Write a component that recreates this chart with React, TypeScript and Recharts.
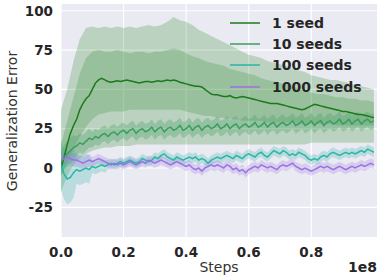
import { ComposedChart, Area, Line, XAxis, YAxis, CartesianGrid } from 'recharts';

// x positions, in units of 1e8 steps
const steps = Array.from({ length: 101 }, (_, i) => +(i * 0.01).toFixed(2));
const bandSteps = Array.from({ length: 51 }, (_, i) => +(i * 0.02).toFixed(2));

const oneSeed = [
    0, 7, 15, 22, 27, 31, 37, 41, 44, 46,
    50, 54, 56, 57, 56, 55, 54.5, 55, 55.5, 55,
    55.5, 56, 55.5, 55, 54.5, 54, 54.5, 55, 55, 54.5,
    55, 55.5, 55, 55.5, 56, 55.5, 56, 55.5, 54.5, 54,
    53.5, 53, 52.5, 52, 52, 51.5, 50, 48.5, 47, 46.5,
    46.5, 46, 45.5, 45.5, 46, 45, 44.5, 45, 45.5, 45,
    44.5, 44, 43.5, 43, 42.5, 42, 41.5, 41, 41, 41,
    40.5, 40, 39.5, 39, 38.5, 38, 37.5, 37, 37.5, 38.5,
    39.5, 40.5, 40, 39.5, 39, 38.5, 38, 37.5, 37, 36.5,
    36, 36, 35.5, 35, 34.5, 34, 34, 33.5, 33, 32.5,
    32,
];

const tenSeeds = [
    3, 7, 9, 11, 13, 14, 16, 15, 17, 19,
    18, 20, 19, 21, 22, 20, 22, 23, 21, 23,
    24, 22, 24, 25, 22, 24, 25, 23, 24, 26,
    23, 25, 26, 23, 25, 26, 24, 25, 27, 24,
    25, 27, 24, 26, 27, 24, 26, 27, 25, 26,
    28, 25, 26, 28, 25, 27, 28, 25, 27, 28,
    26, 27, 29, 26, 27, 29, 26, 28, 29, 26,
    28, 29, 27, 28, 30, 27, 28, 30, 27, 28,
    30, 27, 29, 30, 27, 29, 30, 28, 29, 31,
    28, 29, 31, 28, 30, 31, 28, 30, 31, 29,
    30,
];

const hundredSeeds = [
    2, -4, -7, -6, -3, -1, -2, -1, 0, -1,
    1, 0, 1, 2, 1, 2, 3, 2, 3, 4,
    3, 4, 5, 4, 3, 4, 6, 5, 4, 5,
    7, 6, 8, 9, 7, 6, 5, 7, 6, 5,
    6, 7, 6, 7, 5, 6, 5, 3, 5, 6,
    7, 6, 7, 8, 7, 6, 8, 7, 6, 8,
    9, 8, 7, 9, 10, 8, 7, 9, 11, 10,
    9, 11, 10, 8, 9, 8, 10, 9, 8, 6,
    5, 6, 5, 7, 8, 7, 9, 10, 9, 8,
    9, 10, 9, 10, 9, 10, 11, 10, 12, 11,
    10,
];

const thousandSeeds = [
    5, 6, 7, 6, 5, 5, 4, 3, 4, 5,
    4, 5, 6, 5, 4, 3, 2, 3, 2, 3,
    2, 3, 4, 3, 2, 3, 4, 3, 5, 4,
    3, 4, 5, 4, 3, 2, 3, 4, 3, 2,
    1, 2, 0, -1, 0, -2, 0, 1, 2, 1,
    2, 1, 0, 2, 1, -1, 0, -2, -1, -3,
    -1, 0, 1, 0, 2, 1, 0, 1, 0, -1,
    1, 2, 1, 2, 3, 1, 0, -1, 0, -1,
    -2, -1, 0, 1, 0, 1, 0, -1, 0, 1,
    0, -1, 0, 1, 0, 1, 2, 1, 2, 3,
    2,
];

// half-widths of the narrow bands, one value every 0.05
const tenSpread = [8, 6, 5, 5, 5, 5, 5, 5, 5, 5, 5, 5, 5, 5, 5, 5, 5, 5, 5, 5, 5];
const hundredSpread = [16, 9, 4, 3, 3, 3, 3, 3, 3, 3, 3, 3, 3, 3, 3, 3, 3, 3, 3, 3, 3];
const thousandSpread = [4, 4, 3, 3, 3, 3, 3, 3, 3, 3, 3, 3, 3, 3, 3, 3, 3, 3, 3, 3, 3];

// 1 seed shaded bands, one value every 0.02
const oneOuterHi = [
    37, 50, 68, 82, 89, 90, 89, 90, 89, 90,
    89, 90, 89, 90, 91, 90, 91, 93, 96, 94,
    93, 91, 88, 86, 84, 82, 80, 78, 76, 74,
    72, 71, 70, 68, 67, 66, 65, 63, 62, 61,
    59, 58, 57, 56, 56, 55, 54, 53, 52, 51,
    50,
];
const oneOuterLo = [
    -15, -5, 2, 6, 9, 11, 12, 13, 13, 14,
    14, 14, 15, 15, 15, 15, 15, 15, 15, 15,
    15, 15, 15, 15, 15, 15, 15, 15, 15, 15,
    15, 15, 15, 15, 15, 15, 15, 15, 15, 15,
    16, 16, 16, 16, 16, 16, 16, 16, 16, 16,
    16,
];
const oneInnerHi = [
    15, 30, 45, 60, 70, 74, 75, 74, 74, 75,
    74, 73, 74, 74, 73, 74, 74, 75, 76, 75,
    73, 71, 70, 68, 67, 66, 65, 63, 62, 61,
    60, 59, 57, 56, 55, 54, 53, 52, 50, 49,
    48, 47, 47, 46, 45, 45, 44, 44, 43, 43,
    42,
];
const oneInnerLo = [
    -5, 3, 12, 20, 26, 31, 34, 35, 36, 36,
    36, 37, 37, 37, 37, 37, 37, 37, 37, 37,
    36, 35, 34, 33, 33, 32, 32, 31, 31, 30,
    30, 30, 30, 29, 29, 29, 29, 29, 28, 28,
    28, 28, 28, 28, 27, 27, 27, 27, 27, 27,
    27,
];

const xTicks = [0, 0.2, 0.4, 0.6, 0.8];
const yTicks = [-25, 0, 25, 50, 75, 100];

const seriesNames = ['1 seed', '10 seeds', '100 seeds', '1000 seeds'];
const seriesColors = ['#1b7a1b', '#3a9d5d', '#2ab5a5', '#9a72e2'];

const lineData = steps.map((x, i) => {
    const k = Math.floor(i / 5);
    return {
        x,
        one: oneSeed[i],
        ten: tenSeeds[i],
        hundred: hundredSeeds[i],
        thousand: thousandSeeds[i],
        tenBand: [tenSeeds[i] - tenSpread[k], tenSeeds[i] + tenSpread[k]],
        hundredBand: [hundredSeeds[i] - hundredSpread[k], hundredSeeds[i] + hundredSpread[k]],
        thousandBand: [thousandSeeds[i] - thousandSpread[k], thousandSeeds[i] + thousandSpread[k]],
    };
});

const bandData = bandSteps.map((x, i) => ({
    x,
    outer: [oneOuterLo[i], oneOuterHi[i]],
    inner: [oneInnerLo[i], oneInnerHi[i]],
}));

const font = '"DejaVu Sans", sans-serif';
const tickStyle = { fill: '#262626', fontSize: 13.5, fontWeight: 700, fontFamily: font };

function SeedLegend() {
    return (
        <div style={{ position: 'absolute', left: 228, top: 12, fontFamily: font, fontSize: 14, fontWeight: 700, color: '#262626' }}>
            {seriesNames.map((name, i) => (
                <div key={name} style={{ display: 'flex', alignItems: 'center', height: 21.3 }}>
                    <svg width={44} height={4}>
                        <line x1={2} y1={2} x2={32} y2={2} stroke={seriesColors[i]} strokeWidth={1.5} />
                    </svg>
                    <span>{name}</span>
                </div>
            ))}
        </div>
    );
}

export default function App() {
    return (
        <div style={{ position: 'fixed', left: 0, top: 0, width: 383, height: 278, background: '#fff' }}>
            <ComposedChart width={383} height={278} data={lineData} margin={{ top: 4, right: 6, bottom: 0, left: 0 }}>
                <CartesianGrid fill="#EAEAF2" stroke="#ffffff" strokeWidth={1.2} horizontalValues={yTicks} verticalValues={xTicks} />
                <XAxis
                    dataKey="x"
                    type="number"
                    domain={[0, 1.01]}
                    ticks={xTicks}
                    allowDataOverflow
                    axisLine={false}
                    tickLine={false}
                    tickSize={0}
                    tickMargin={10}
                    height={41}
                    tick={tickStyle}
                    tickFormatter={(v) => v.toFixed(1)}
                />
                <YAxis
                    type="number"
                    domain={[-43.9, 104.3]}
                    ticks={yTicks}
                    allowDataOverflow
                    axisLine={false}
                    tickLine={false}
                    tickSize={0}
                    tickMargin={8}
                    width={61}
                    tick={tickStyle}
                />
                <Area data={bandData} dataKey="outer" stroke="none" fill="#2f8a2f" fillOpacity={0.25} isAnimationActive={false} />
                <Area data={bandData} dataKey="inner" stroke="none" fill="#2f8a2f" fillOpacity={0.25} isAnimationActive={false} />
                <Area dataKey="tenBand" stroke="none" fill={seriesColors[1]} fillOpacity={0.3} isAnimationActive={false} />
                <Area dataKey="hundredBand" stroke="none" fill={seriesColors[2]} fillOpacity={0.25} isAnimationActive={false} />
                <Area dataKey="thousandBand" stroke="none" fill={seriesColors[3]} fillOpacity={0.25} isAnimationActive={false} />
                <Line dataKey="one" stroke={seriesColors[0]} strokeWidth={1.5} dot={false} isAnimationActive={false} />
                <Line dataKey="ten" stroke={seriesColors[1]} strokeWidth={1.5} dot={false} isAnimationActive={false} />
                <Line dataKey="hundred" stroke={seriesColors[2]} strokeWidth={1.5} dot={false} isAnimationActive={false} />
                <Line dataKey="thousand" stroke={seriesColors[3]} strokeWidth={1.5} dot={false} isAnimationActive={false} />
            </ComposedChart>
            <SeedLegend />
            <div style={{ position: 'absolute', left: 12, top: 121, transform: 'translate(-50%, -50%) rotate(-90deg)', whiteSpace: 'nowrap', fontFamily: font, fontSize: 14, color: '#333' }}>
                Generalization Error
            </div>
            <div style={{ position: 'absolute', left: 219, top: 267, transform: 'translate(-50%, -50%)', fontFamily: font, fontSize: 14, color: '#333' }}>
                Steps
            </div>
            <div style={{ position: 'absolute', right: 6, top: 267, transform: 'translateY(-50%)', fontFamily: font, fontSize: 14, fontWeight: 700, color: '#262626' }}>
                1e8
            </div>
        </div>
    );
}
